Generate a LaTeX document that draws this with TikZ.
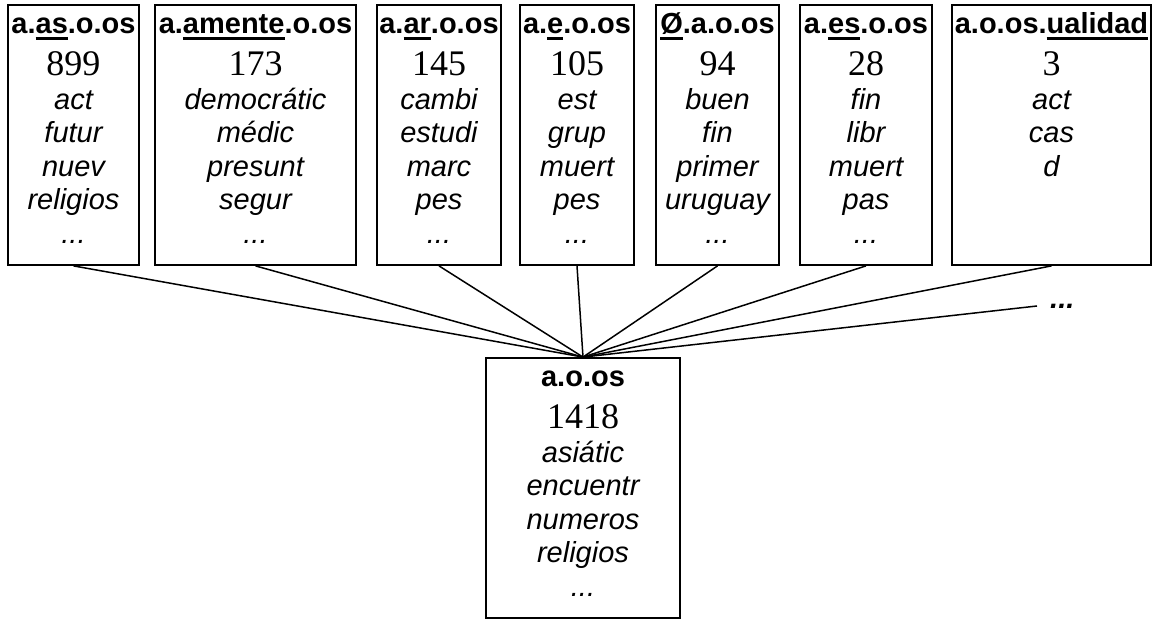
\documentclass[tikz,border=0pt]{standalone}
\usepackage{fontspec}
\setmainfont{Liberation Serif}
\setsansfont{Liberation Sans}
\usetikzlibrary{positioning}
% thick rule under the varying part of a paradigm name
\newcommand{\suf}[1]{{\setbox0\hbox{#1}\rlap{\rule[-6.5pt]{\wd0}{2.5pt}}\box0}}
\newcommand{\hd}[1]{\rule{0pt}{22pt}{\upshape\bfseries #1}}
\newcommand{\cnt}[1]{{\rmfamily\upshape\fontsize{36}{33.5}\selectfont #1}}
\newcommand{\lastln}[1]{\rule[-15pt]{0pt}{15pt}#1}

\begin{document}
\begin{tikzpicture}[x=1pt,y=1pt,
  every node/.style={font=\sffamily\itshape\fontsize{29}{33.5}\selectfont},
  grp/.style={draw,line width=1.8pt,align=center,inner sep=0pt,minimum height=260pt},
  ln/.style={line width=1.5pt}]
\useasboundingbox (0,0) rectangle (1154,620);
\node[grp,minimum width=131pt] (b1) at (73.5,485) {\hd{a.\suf{as}.o.os}\\[9pt]\cnt{899}\\act\\futur\\nuev\\religios\\\lastln{...}};
\node[grp,minimum width=201pt] (b2) at (255.5,485) {\hd{a.\suf{amente}.o.os}\\[9pt]\cnt{173}\\democrátic\\médic\\presunt\\segur\\\lastln{...}};
\node[grp,minimum width=124pt] (b3) at (439,485) {\hd{a.\suf{ar}.o.os}\\[9pt]\cnt{145}\\cambi\\estudi\\marc\\pes\\\lastln{...}};
\node[grp,minimum width=114pt] (b4) at (577,485) {\hd{a.\suf{e}.o.os}\\[9pt]\cnt{105}\\est\\grup\\muert\\pes\\\lastln{...}};
\node[grp,minimum width=123pt] (b5) at (717.5,485) {\hd{\suf{Ø}.a.o.os}\\[9pt]\cnt{94}\\buen\\fin\\primer\\uruguay\\\lastln{...}};
\node[grp,minimum width=132pt] (b6) at (866,485) {\hd{a.\suf{es}.o.os}\\[9pt]\cnt{28}\\fin\\libr\\muert\\pas\\\lastln{...}};
\node[grp,minimum width=199pt] (b7) at (1051.5,485) {\hd{a.o.os.\suf{ualidad}}\\[9pt]\cnt{3}\\act\\cas\\d\\\mbox{}\\\lastln{\mbox{}}};
\node[grp,minimum width=194pt] (base) at (583,132) {\hd{a.o.os}\\[9pt]\cnt{1418}\\asiátic\\encuentr\\numeros\\religios\\\lastln{...}};
\node[font=\sffamily\bfseries\itshape\fontsize{29}{33.5}\selectfont,inner xsep=13pt,inner ysep=0pt,anchor=west] (more) at (1037,314) {...};
\foreach \b in {b1,b2,b3,b4,b5,b6,b7} \draw[ln] (\b.south) -- (base.north);
\draw[ln] (base.north) -- (more.west);
\end{tikzpicture}
\end{document}
